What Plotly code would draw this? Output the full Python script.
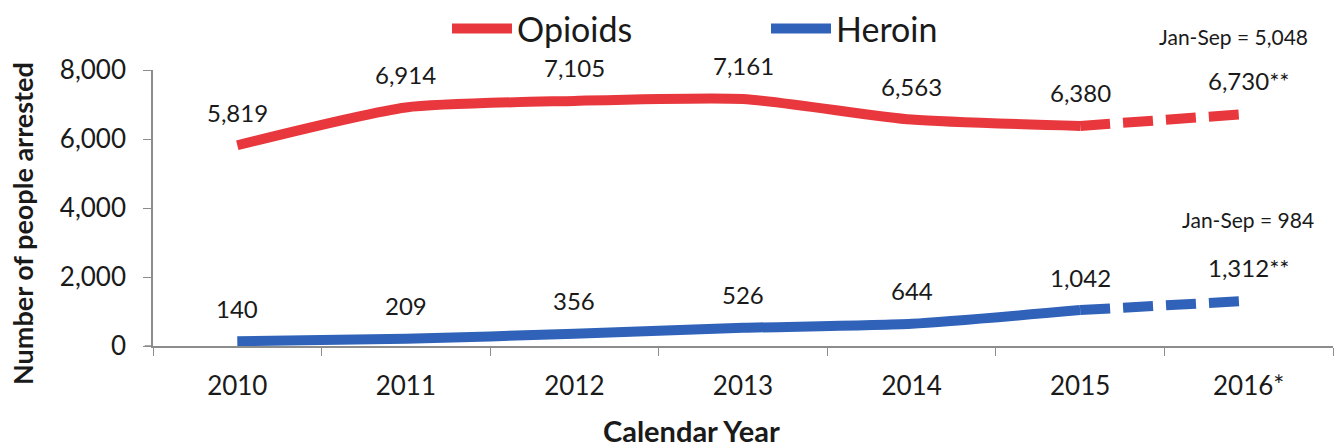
import plotly.graph_objects as go

years = ["2010", "2011", "2012", "2013", "2014", "2015", "2016*"]
opioids = [5819, 6914, 7105, 7161, 6563, 6380, 6730]
heroin = [140, 209, 356, 526, 644, 1042, 1312]
opioid_labels = ["5,819", "6,914", "7,105", "7,161", "6,563", "6,380", "6,730**"]
heroin_labels = ["140", "209", "356", "526", "644", "1,042", "1,312**"]
y_ticks = [0, 2000, 4000, 6000, 8000]
y_tick_text = ["0", "2,000", "4,000", "6,000", "8,000"]

RED = "#E8383D"
BLUE = "#2F62B8"
FONT = "Lato"
TXT = "#1a1a1a"

fig = go.Figure()
fig.add_trace(go.Scatter(x=years[:6], y=opioids[:6], mode="lines", name="Opioids",
                         line=dict(color=RED, width=10, shape="spline", smoothing=0.6)))
fig.add_trace(go.Scatter(x=years[:6], y=heroin[:6], mode="lines", name="Heroin",
                         line=dict(color=BLUE, width=10, shape="spline", smoothing=0.6)))
fig.add_trace(go.Scatter(x=years[5:], y=opioids[5:], mode="lines", showlegend=False,
                         line=dict(color=RED, width=10, dash="30px,13px")))
fig.add_trace(go.Scatter(x=years[5:], y=heroin[5:], mode="lines", showlegend=False,
                         line=dict(color=BLUE, width=10, dash="30px,13px")))

ann = []
for i, (y, t) in enumerate(zip(opioids, opioid_labels)):
    ann.append(dict(x=i, y=y, text=t, showarrow=False, yshift=33,
                    xanchor="center", yanchor="middle",
                    font=dict(family=FONT, size=24, color=TXT)))
for i, (y, t) in enumerate(zip(heroin, heroin_labels)):
    ann.append(dict(x=i, y=y, text=t, showarrow=False, yshift=33,
                    xanchor="center", yanchor="middle",
                    font=dict(family=FONT, size=24, color=TXT)))

ann.append(dict(x=1.0, y=(346 - 37) / 276, xref="paper", yref="paper",
                text="Jan-Sep = 5,048", showarrow=False, xanchor="right", yanchor="middle",
                xshift=-23, font=dict(family=FONT, size=21, color=TXT)))
ann.append(dict(x=1.0, y=(346 - 219) / 276, xref="paper", yref="paper",
                text="Jan-Sep = 984", showarrow=False, xanchor="right", yanchor="middle",
                xshift=-17, font=dict(family=FONT, size=21, color=TXT)))
ann.append(dict(x=(691 - 153) / 1180, y=(346 - 430) / 276, xref="paper", yref="paper",
                text="<b>Calendar Year</b>", showarrow=False,
                xanchor="center", yanchor="middle",
                font=dict(family=FONT, size=29, color=TXT)))
ann.append(dict(x=(22 - 153) / 1180, y=(346 - 224) / 276, xref="paper", yref="paper",
                text="<b>Number of people arrested</b>", showarrow=False, textangle=-90,
                xanchor="center", yanchor="middle",
                font=dict(family=FONT, size=27, color=TXT)))

fig.update_layout(
    width=1339, height=447,
    margin=dict(l=153, r=6, t=70, b=101, autoexpand=False),
    paper_bgcolor="white", plot_bgcolor="white",
    font=dict(family=FONT, color=TXT),
    showlegend=True,
    legend=dict(orientation="h", xref="container", yref="container",
                x=(452 - 5) / 1339, xanchor="left", y=1.0, yanchor="top",
                font=dict(family=FONT, size=34, color=TXT),
                entrywidth=244, itemwidth=60, bgcolor="rgba(0,0,0,0)"),
    annotations=ann,
    shapes=[dict(type="line", xref="paper", yref="paper", x0=-0.007, x1=0, y0=0, y1=0,
                 line=dict(color="#8c8c8c", width=1.5))],
    xaxis=dict(type="category", range=[-0.5, 6.5], tickson="boundaries",
               showline=True, linecolor="#8c8c8c", linewidth=1.5,
               ticks="outside", ticklen=8, tickcolor="#8c8c8c",
               tickfont=dict(family=FONT, size=26, color=TXT),
               showgrid=False, zeroline=False, ticklabelstandoff=16),
    yaxis=dict(range=[0, 8000], tickvals=y_ticks, ticktext=y_tick_text,
               showline=True, linecolor="#8c8c8c", linewidth=1.5,
               ticks="outside", ticklen=8, tickcolor="#8c8c8c",
               tickfont=dict(family=FONT, size=26, color=TXT),
               showgrid=False, zeroline=False, ticklabelstandoff=12),
)

fig.write_html("out.html")
